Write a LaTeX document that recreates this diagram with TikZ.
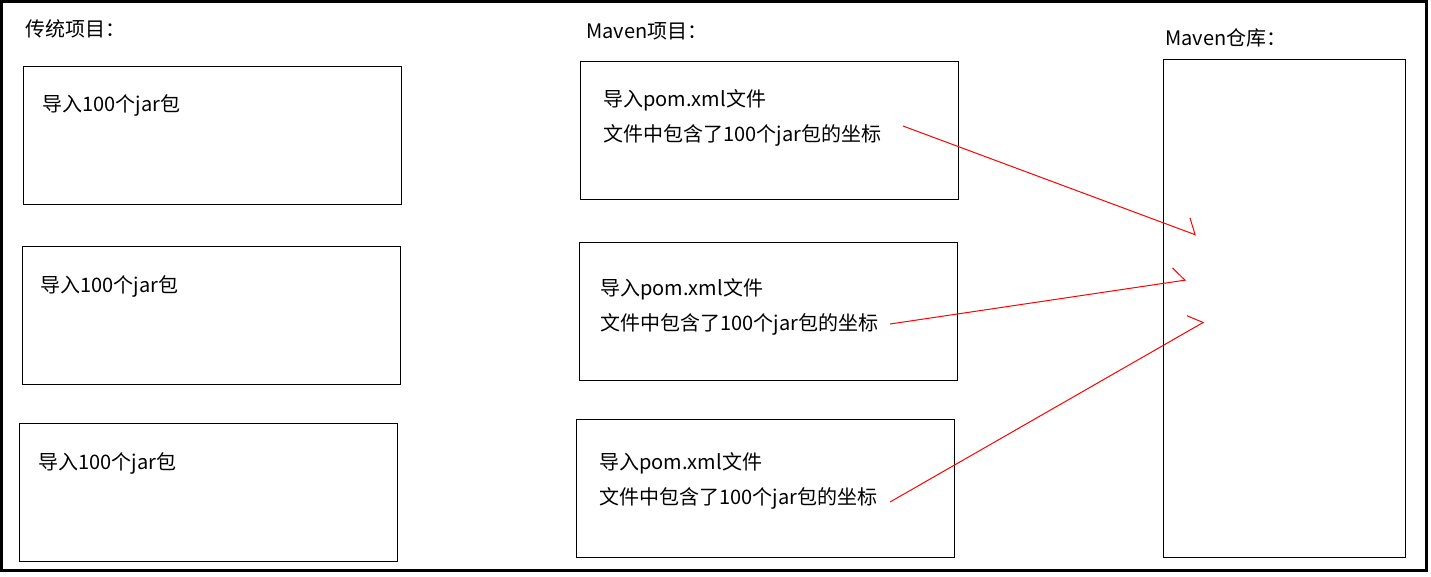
\documentclass[tikz,border=0pt]{standalone}
\usepackage{fontspec}
\newfontfamily\cjk{Noto Sans CJK SC}
\usetikzlibrary{arrows.meta}

\tikzset{
    box/.style={draw, line width=0.75pt, anchor=north west, inner sep=0pt,
        minimum width=283.5pt, minimum height=103.5pt},
    txt/.style={anchor=base west, inner sep=0pt, font=\cjk\fontsize{15pt}{18pt}\selectfont},
    link/.style={red, line width=0.75pt, -{Straight Barb[harpoon, length=8pt, width=21pt]}}
}

\begin{document}
\begin{tikzpicture}[x=0.75pt, y=-0.75pt]
    \useasboundingbox (0,0) rectangle (1431,576);
    \draw [line width=2.25pt] (1.5,1.5) rectangle (1426.5,570.5);

    \node [txt] (oldtitle) at (25,36) {传统项目：};
    \node [box] (old1) at (23,66) {};
    \node [box] (old2) at (22,246) {};
    \node [box] (old3) at (19,423) {};
    \node [txt] (jar1) at (42,111) {导入100个jar包};
    \node [txt] (jar2) at (40,292) {导入100个jar包};
    \node [txt] (jar3) at (38,469) {导入100个jar包};

    \node [txt] (mvntitle) at (586,38) {Maven项目：};
    \node [box] (mvn1) at (580,61) {};
    \node [box] (mvn2) at (579,242) {};
    \node [box] (mvn3) at (576,419) {};
    \node [txt] (pom1) at (603,106) {导入pom.xml文件};
    \node [txt] (crd1) at (603,141) {文件中包含了100个jar包的坐标};
    \node [txt] (pom2) at (600,295) {导入pom.xml文件};
    \node [txt] (crd2) at (600,330) {文件中包含了100个jar包的坐标};
    \node [txt] (pom3) at (599,469) {导入pom.xml文件};
    \node [txt] (crd3) at (599,504) {文件中包含了100个jar包的坐标};

    \node [txt] (repotitle) at (1165,45) {Maven仓库：};
    \node [box, minimum width=181.5pt, minimum height=373.5pt] (repo) at (1163,59) {};

    \coordinate (s1) at (903,126);
    \coordinate (s2) at (890,324);
    \coordinate (s3) at (890,502);
    \coordinate (e1) at (1196,235);
    \coordinate (e2) at (1186,280);
    \coordinate (e3) at (1204,322);
    \draw [link] (s1) -- (e1);
    \draw [link] (s2) -- (e2);
    \draw [link] (s3) -- (e3);
\end{tikzpicture}
\end{document}
